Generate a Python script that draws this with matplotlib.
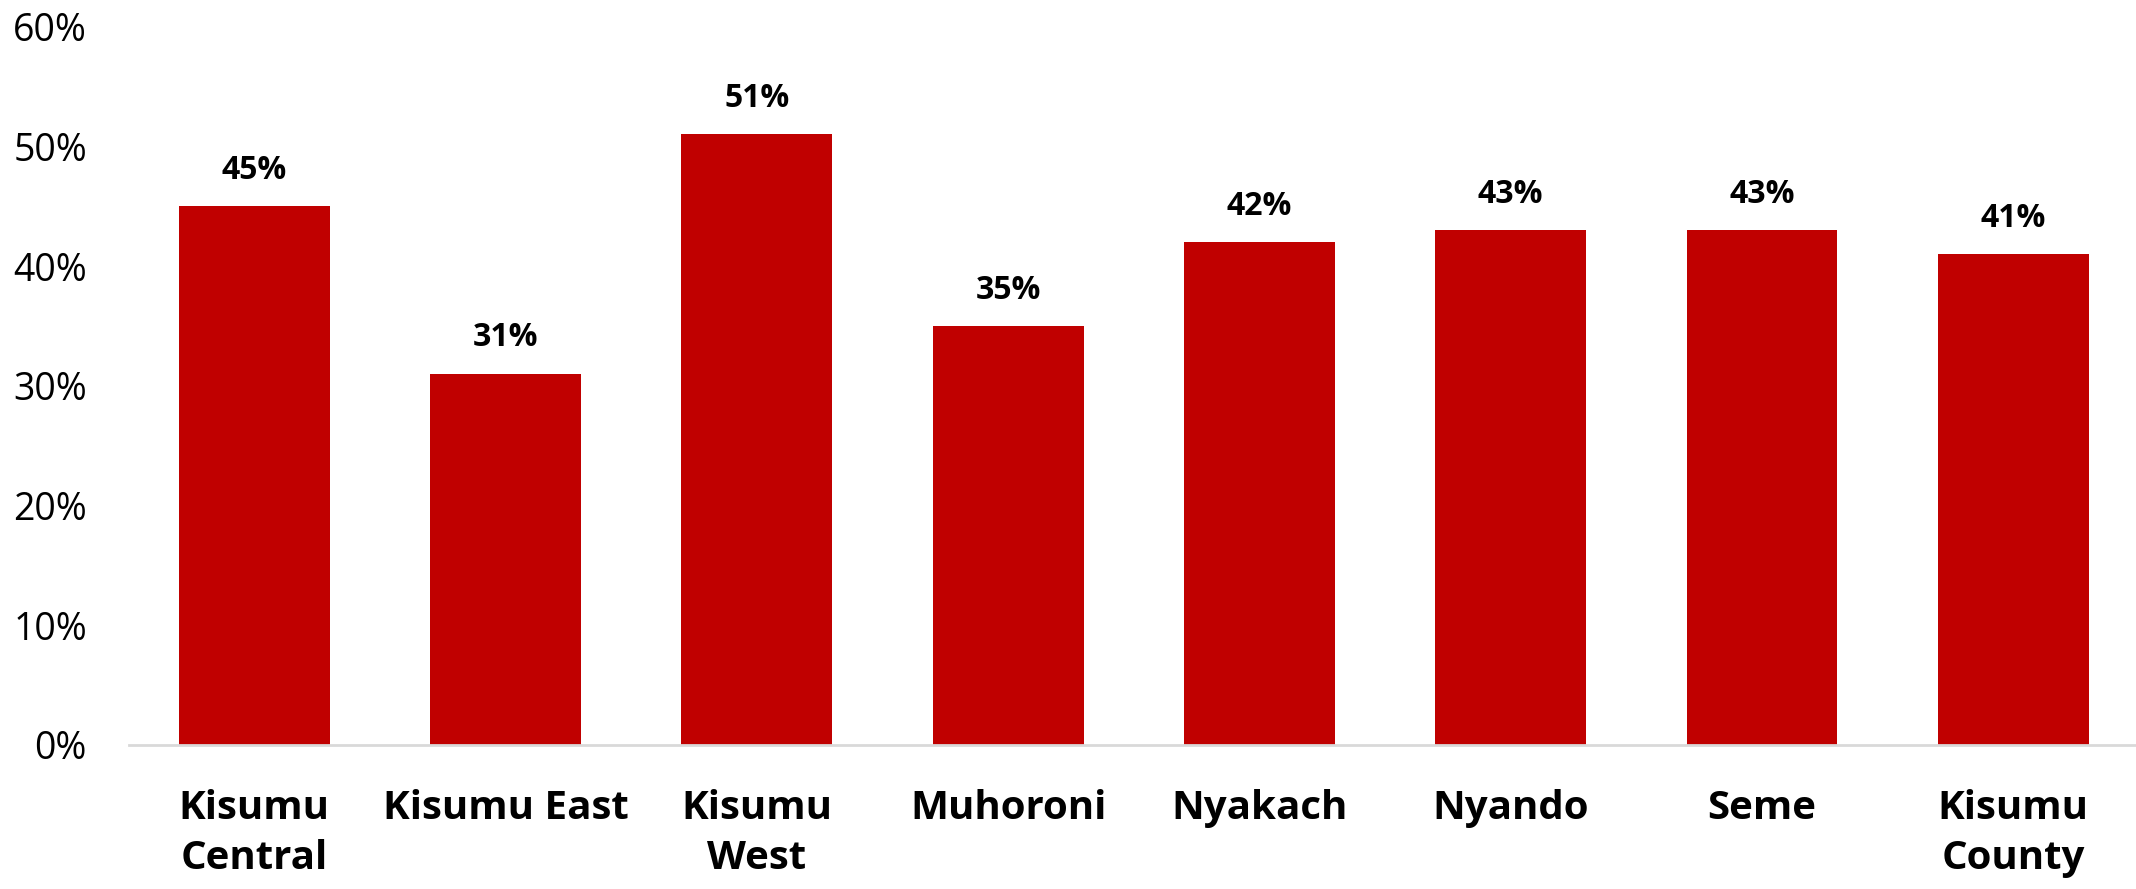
import matplotlib.pyplot as plt
from matplotlib.ticker import FuncFormatter

plt.rcParams['font.family'] = ['Open Sans', 'DejaVu Sans']

areas = ["Kisumu\nCentral", "Kisumu East", "Kisumu\nWest", "Muhoroni",
         "Nyakach", "Nyando", "Seme", "Kisumu\nCounty"]
values = [45, 31, 51, 35, 42, 43, 43, 41]

fig = plt.figure(figsize=(21.36, 8.89), dpi=100)
ax = fig.add_axes([0.0602, 0.162, 0.9412, 0.808])

x = range(len(areas))
bars = ax.bar(x, values, width=0.6, color="#C00000")

for b, v in zip(bars, values):
    ax.annotate(f"{v}%", (b.get_x() + b.get_width() / 2, v),
                xytext=(0, 14), textcoords="offset points",
                ha="center", va="bottom", fontsize=23, fontweight="bold")

ax.set_xlim(-0.5, len(areas) - 0.5)
ax.set_ylim(0, 60)
ax.set_yticks(range(0, 61, 10))
ax.yaxis.set_major_formatter(FuncFormatter(lambda v, p: f"{v:.0f}%"))
ax.set_xticks(list(x))
ax.set_xticklabels(areas, fontsize=29, fontweight="bold", linespacing=1.35)

for s in ["top", "right", "left"]:
    ax.spines[s].set_visible(False)
ax.spines["bottom"].set_color("#d9d9d9")
ax.spines["bottom"].set_linewidth(2)
ax.tick_params(axis="y", length=0, labelsize=27, pad=30)
ax.tick_params(axis="x", length=0, pad=32)

fig.savefig("out.png", dpi=100)
